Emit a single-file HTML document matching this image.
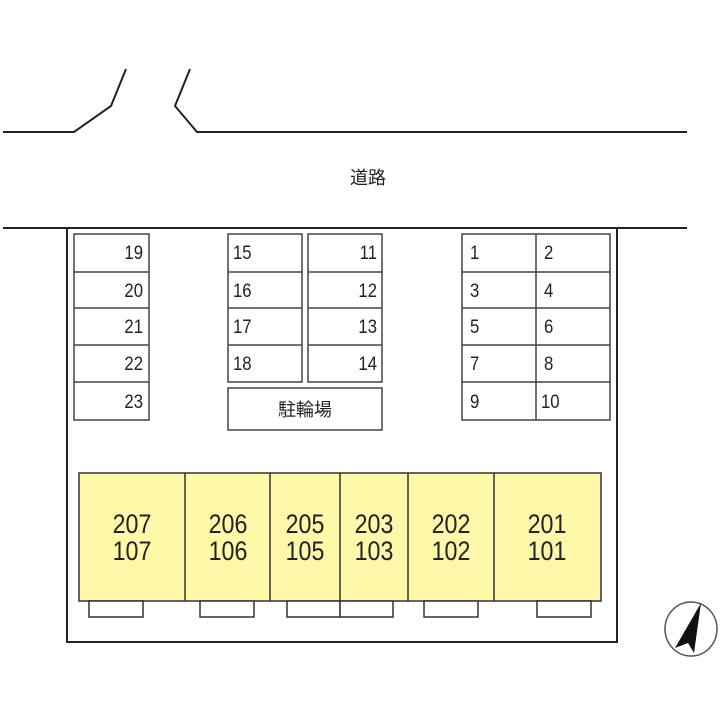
<!DOCTYPE html>
<html><head><meta charset="utf-8"><style>
html,body{margin:0;padding:0;background:#fff;}
svg{display:block;}
text{font-family:"Liberation Sans","Noto Sans CJK JP",sans-serif;fill:#222;}
</style></head><body>
<svg width="720" height="720" viewBox="0 0 720 720" xmlns="http://www.w3.org/2000/svg">
<g fill="none" stroke="#222" stroke-width="2">
<polyline points="3,132 74,132 111,106 126,69"/>
<polyline points="190,69 175,106 197,132 687,132"/>
<line x1="3" y1="228" x2="687" y2="228"/>
<polyline points="67,228 67,642 617,642 617,228" stroke-width="2"/>
</g>
<g fill="#fff" stroke="#444" stroke-width="1.5">
<rect x="74" y="234" width="75" height="186"/>
<line x1="74" y1="272" x2="149" y2="272"/><line x1="74" y1="308" x2="149" y2="308"/><line x1="74" y1="345" x2="149" y2="345"/><line x1="74" y1="382" x2="149" y2="382"/>
<rect x="228" y="234" width="74" height="148"/>
<line x1="228" y1="272" x2="302" y2="272"/><line x1="228" y1="308" x2="302" y2="308"/><line x1="228" y1="345" x2="302" y2="345"/>
<rect x="308" y="234" width="74" height="148"/>
<line x1="308" y1="272" x2="382" y2="272"/><line x1="308" y1="308" x2="382" y2="308"/><line x1="308" y1="345" x2="382" y2="345"/>
<rect x="228" y="388" width="154" height="42"/>
<rect x="462" y="234" width="148" height="186"/>
<line x1="536" y1="234" x2="536" y2="420"/>
<line x1="462" y1="272" x2="610" y2="272"/><line x1="462" y1="308" x2="610" y2="308"/><line x1="462" y1="345" x2="610" y2="345"/><line x1="462" y1="382" x2="610" y2="382"/>
</g>
<g font-size="19">
<g text-anchor="end">
<text transform="translate(143,259) scale(0.88,1)">19</text><text transform="translate(143,297) scale(0.88,1)">20</text><text transform="translate(143,333) scale(0.88,1)">21</text><text transform="translate(143,370) scale(0.88,1)">22</text><text transform="translate(143,408) scale(0.88,1)">23</text>
<text transform="translate(377,259) scale(0.88,1)">11</text><text transform="translate(377,297) scale(0.88,1)">12</text><text transform="translate(377,333) scale(0.88,1)">13</text><text transform="translate(377,370) scale(0.88,1)">14</text>
</g>
<text transform="translate(233,259) scale(0.88,1)">15</text><text transform="translate(233,297) scale(0.88,1)">16</text><text transform="translate(233,333) scale(0.88,1)">17</text><text transform="translate(233,370) scale(0.88,1)">18</text>
<text transform="translate(470,259) scale(0.88,1)">1</text><text transform="translate(470,297) scale(0.88,1)">3</text><text transform="translate(470,333) scale(0.88,1)">5</text><text transform="translate(470,370) scale(0.88,1)">7</text><text transform="translate(470,408) scale(0.88,1)">9</text>
<text transform="translate(544,259) scale(0.88,1)">2</text><text transform="translate(544,297) scale(0.88,1)">4</text><text transform="translate(544,333) scale(0.88,1)">6</text><text transform="translate(544,370) scale(0.88,1)">8</text><text transform="translate(541,408) scale(0.88,1)">10</text>
<text x="305" y="416" text-anchor="middle" font-size="18">駐輪場</text>
<text x="368" y="184" text-anchor="middle" font-size="18">道路</text>
</g>
<g stroke="#333" stroke-width="1.5">
<rect x="79" y="473" width="522" height="128" fill="#fff8a8"/>
<line x1="185" y1="473" x2="185" y2="601"/><line x1="270" y1="473" x2="270" y2="601"/><line x1="340" y1="473" x2="340" y2="617"/><line x1="408" y1="473" x2="408" y2="601"/><line x1="494" y1="473" x2="494" y2="601"/>
<g fill="#fff">
<rect x="89" y="601" width="54" height="16"/><rect x="200" y="601" width="54" height="16"/><rect x="287" y="601" width="53" height="16"/><rect x="340" y="601" width="53" height="16"/><rect x="424" y="601" width="54" height="16"/><rect x="537" y="601" width="54" height="16"/>
</g>
</g>
<g font-size="27" text-anchor="middle">
<text transform="translate(132,533) scale(0.86,1)">207</text><text transform="translate(132,560) scale(0.86,1)">107</text>
<text transform="translate(228,533) scale(0.86,1)">206</text><text transform="translate(228,560) scale(0.86,1)">106</text>
<text transform="translate(305,533) scale(0.86,1)">205</text><text transform="translate(305,560) scale(0.86,1)">105</text>
<text transform="translate(374,533) scale(0.86,1)">203</text><text transform="translate(374,560) scale(0.86,1)">103</text>
<text transform="translate(451,533) scale(0.86,1)">202</text><text transform="translate(451,560) scale(0.86,1)">102</text>
<text transform="translate(547,533) scale(0.86,1)">201</text><text transform="translate(547,560) scale(0.86,1)">101</text>
</g>
<ellipse cx="691" cy="629" rx="26" ry="27" fill="none" stroke="#555" stroke-width="1.5"/>
<polygon points="701,603 694,653 688,643 675,648" fill="#111"/>
</svg>
</body></html>
